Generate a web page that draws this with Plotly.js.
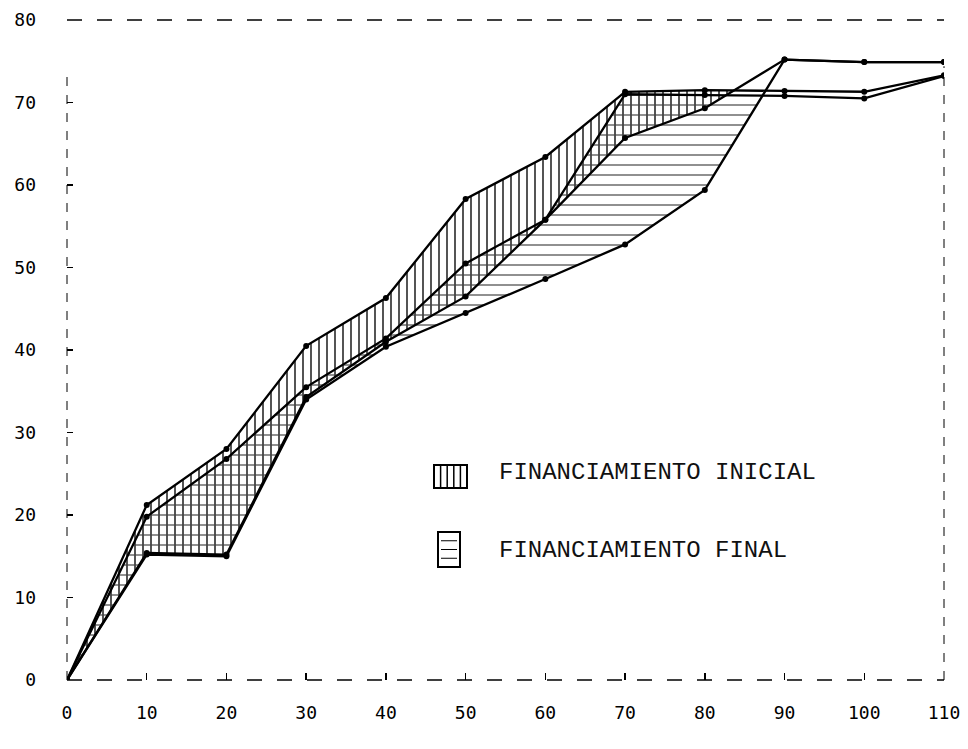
<!DOCTYPE html>
<html>
<head>
<meta charset="utf-8">
<script src="https://cdn.plot.ly/plotly-3.0.1.min.js"></script>
<style>html,body{margin:0;padding:0;background:#fff;}#chart{width:968px;height:749px;}</style>
</head>
<body>
<div id="chart"></div>
<script>
// x values
var xVals = [0, 10, 20, 30, 40, 50, 60, 70, 80, 90, 100, 110];
// Financiamiento inicial: upper and lower boundary
var inicialSup = [0, 21.2, 28.0, 40.5, 46.3, 58.3, 63.4, 71.3, 71.5, 71.4, 71.3, 73.3];
var inicialInf = [0, 15.4, 15.2, 34.3, 41.0, 46.5, 55.8, 65.7, 69.3, 75.2, 74.9, 74.9];
// Financiamiento final: upper and lower boundary
var finalSup = [0, 19.8, 26.8, 35.5, 41.4, 50.5, 55.8, 71.0, 70.9, 70.8, 70.5, 73.2];
var finalInf = [0, 15.2, 15.0, 34.0, 40.4, 44.5, 48.6, 52.8, 59.4, 75.2, 74.9, 74.9];

var xTicks = [0, 10, 20, 30, 40, 50, 60, 70, 80, 90, 100, 110];
var yTicks = [0, 10, 20, 30, 40, 50, 60, 70, 80];
var legendLabels = ["FINANCIAMIENTO INICIAL", "FINANCIAMIENTO FINAL"];

// Band between sup and inf, kept only where sup >= inf (clipped at crossing)
function band(xs, sup, inf) {
  var ux = [], uy = [], ly = [];
  for (var i = 0; i < xs.length; i++) {
    var d = sup[i] - inf[i];
    if (d >= 0) { ux.push(xs[i]); uy.push(sup[i]); ly.push(inf[i]); }
    if (i < xs.length - 1) {
      var d2 = sup[i+1] - inf[i+1];
      if ((d > 0 && d2 < 0) || (d < 0 && d2 > 0)) {
        var t = d / (d - d2);
        var xc = xs[i] + t * (xs[i+1] - xs[i]);
        var yc = sup[i] + t * (sup[i+1] - sup[i]);
        ux.push(xc); uy.push(yc); ly.push(yc);
        if (d > 0) break;
      }
    }
  }
  return {x: ux.concat(ux.slice().reverse()), y: uy.concat(ly.slice().reverse())};
}

var bIni = band(xVals, inicialSup, inicialInf);
var bFin = band(xVals, finalSup, finalInf);

var traces = [
  {
    x: bIni.x, y: bIni.y,
    mode: 'none', fill: 'toself', fillcolor: 'rgba(0,0,0,0)',
    fillpattern: {shape: '|', fgcolor: '#111', bgcolor: 'rgba(0,0,0,0)', size: 8, solidity: 0.18},
    hoverinfo: 'skip', showlegend: false
  },
  {
    x: bFin.x, y: bFin.y,
    mode: 'none', fill: 'toself', fillcolor: 'rgba(0,0,0,0)',
    fillpattern: {shape: '-', fgcolor: '#444', bgcolor: 'rgba(0,0,0,0)', size: 10, solidity: 0.12},
    hoverinfo: 'skip', showlegend: false
  }
];
[inicialSup, inicialInf, finalSup, finalInf].forEach(function(s){
  traces.push({
    x: xVals, y: s, mode: 'lines+markers',
    line: {color: '#000', width: 2.3},
    marker: {color: '#000', size: 6},
    showlegend: false, hoverinfo: 'skip'
  });
});

// layout helpers (plot area in pixels: x 67..944, y 20..680)
function px(x){ return (x - 67) / 877; }
function py(y){ return (680 - y) / 660; }

var shapes = [
  {type:'line', xref:'paper', yref:'paper', x0:0, x1:1, y0:1, y1:1, line:{color:'#000', width:1.5, dash:'longdash'}},
  {type:'line', xref:'paper', yref:'paper', x0:1, x1:1, y0:0, y1:0.93, line:{color:'#000', width:1, dash:'dash'}},
  {type:'line', xref:'paper', yref:'paper', x0:0, x1:0, y0:0, y1:0.925, line:{color:'#000', width:1, dash:'dash'}},
  {type:'line', xref:'paper', yref:'paper', x0:0, x1:1, y0:0, y1:0, line:{color:'#000', width:1.5, dash:'longdash'}},
  {type:'rect', xref:'paper', yref:'paper', x0:px(434), x1:px(467), y0:py(488), y1:py(465), line:{color:'#000', width:2}}
];
for (var i = 1; i <= 4; i++) {
  var xx = 434 + i * 33 / 5;
  shapes.push({type:'line', xref:'paper', yref:'paper', x0:px(xx), x1:px(xx), y0:py(488), y1:py(465), line:{color:'#000', width:1.5}});
}
shapes.push({type:'rect', xref:'paper', yref:'paper', x0:px(438), x1:px(460), y0:py(567), y1:py(532), line:{color:'#000', width:2}});
for (var j = 1; j <= 3; j++) {
  var yy = 532 + j * 35 / 4;
  shapes.push({type:'line', xref:'paper', yref:'paper', x0:px(441), x1:px(457), y0:py(yy), y1:py(yy), line:{color:'#000', width:1}});
}

var layout = {
  width: 968, height: 749,
  margin: {l: 67, r: 24, t: 20, b: 69},
  paper_bgcolor: '#fff', plot_bgcolor: '#fff',
  showlegend: false,
  font: {family: 'DejaVu Sans Mono', size: 18, color: '#000'},
  xaxis: {
    range: [0, 110], tickvals: xTicks, ticktext: xTicks.map(String),
    ticks: 'inside', ticklen: 7, tickcolor: '#000', tickwidth: 1.5,
    showgrid: false, zeroline: false, showline: false,
    ticklabelstandoff: 20, fixedrange: true
  },
  yaxis: {
    range: [0, 80], tickvals: yTicks, ticktext: yTicks.map(String),
    ticks: 'inside', ticklen: 6, tickcolor: '#000', tickwidth: 1.5,
    showgrid: false, zeroline: false, showline: false,
    ticklabelstandoff: 30, fixedrange: true
  },
  shapes: shapes,
  annotations: [
    {xref:'paper', yref:'paper', x:px(497), y:py(473), xanchor:'left', yanchor:'middle', showarrow:false,
     text: legendLabels[0], font:{family:'Liberation Mono', size:24, color:'#111'}},
    {xref:'paper', yref:'paper', x:px(497), y:py(550), xanchor:'left', yanchor:'middle', showarrow:false,
     text: legendLabels[1], font:{family:'Liberation Mono', size:24, color:'#111'}}
  ]
};

Plotly.newPlot('chart', traces, layout, {displayModeBar: false, staticPlot: true});
</script>
</body>
</html>
